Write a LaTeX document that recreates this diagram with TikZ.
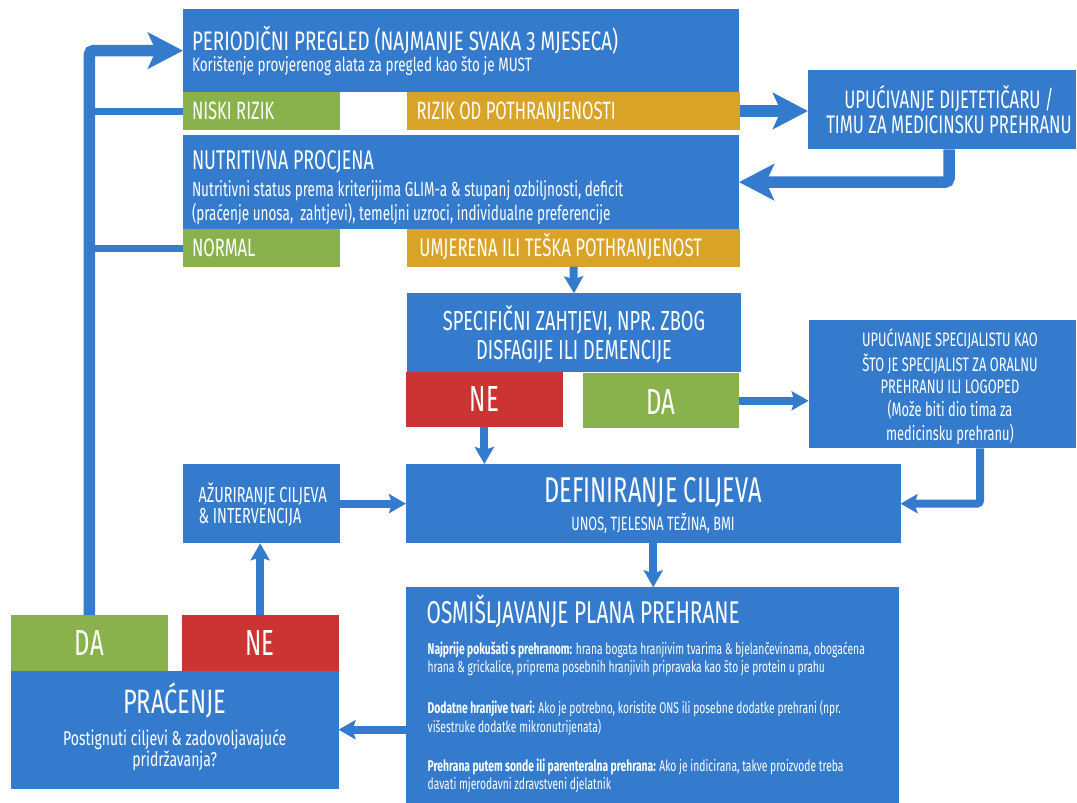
\documentclass[tikz,border=0pt]{standalone}
\usepackage{fontspec}
\setmainfont[FakeStretch=0.66]{Fira Sans}
\newfontfamily\widefont[FakeStretch=0.70]{Fira Sans}
\usetikzlibrary{arrows.meta}
\definecolor{flowblue}{RGB}{52,123,205}
\definecolor{flowgreen}{RGB}{137,178,77}
\definecolor{floworange}{RGB}{216,163,38}
\definecolor{flowred}{RGB}{204,51,51}
\newcommand{\fsz}[2]{\fontsize{#1}{#2}\selectfont}
\newcommand{\rows}[2]{\begin{tabular}[t]{@{}#1@{}}#2\end{tabular}}
\tikzset{
  box/.style={fill=flowblue,inner sep=0pt,outer sep=0pt,anchor=north west},
  green box/.style={box,fill=flowgreen},
  orange box/.style={box,fill=floworange},
  red box/.style={box,fill=flowred},
  boxtext/.style={text=white,inner sep=0pt,outer sep=0pt},
  big arrow/.style={draw=flowblue,line width=11.5pt,-{Stealth[length=35pt,width=36pt,inset=8pt]}},
  small arrow/.style={draw=flowblue,line width=8pt,-{Stealth[length=17pt,width=19pt,inset=3pt]}},
  branch/.style={draw=flowblue,line width=7pt}
}

\begin{document}
\begin{tikzpicture}[x=1pt,y=-1pt]
  \useasboundingbox (0,0) rectangle (1077,803);

  % screening and assessment
  \node[box,minimum width=556pt,minimum height=83.3pt] (periodic) at (183,9) {};
  \node[green box,minimum width=157pt,minimum height=37.4pt] (niski) at (183,92.3) {};
  \node[orange box,minimum width=333pt,minimum height=37.4pt] (rizik) at (407,92.3) {};
  \node[box,minimum width=556pt,minimum height=94.3pt] (nutri) at (183,135) {};
  \node[green box,minimum width=157pt,minimum height=37.4pt] (normal) at (183,229.3) {};
  \node[orange box,minimum width=333pt,minimum height=37.4pt] (umj) at (407,229.3) {};
  \node[box,minimum width=268pt,minimum height=79.3pt] (diet) at (808,70) {};

  \node[boxtext,anchor=base west,font=\widefont\fsz{26.8}{30}] (tperiodic) at (192,50) {PERIODIČNI PREGLED (NAJMANJE SVAKA 3 MJESECA)};
  \node[boxtext,anchor=base west,font=\widefont\fsz{19.3}{22}] (tmust) at (192,71.7) {Korištenje provjerenog alata za pregled kao što je MUST};
  \node[boxtext,anchor=base west,font=\fsz{25.1}{28}] (tniski) at (192,119) {NISKI RIZIK};
  \node[boxtext,anchor=base west,font=\fsz{25.1}{28}] (trizik) at (416.7,119) {RIZIK OD POTHRANJENOSTI};
  \node[boxtext,anchor=base west,font=\fsz{27.1}{30}] (tnutri) at (192,169.3) {NUTRITIVNA PROCJENA};
  \node[boxtext,anchor=base west,font=\fsz{20.5}{20.6}] (tnutribody) at (192,196.7)
    {\rows{l}{Nutritivni status prema kriterijima GLIM-a \& stupanj ozbiljnosti, deficit\\
     (praćenje unosa,\ \ zahtjevi), temeljni uzroci, individualne preferencije}};
  \node[boxtext,anchor=base west,font=\fsz{25.1}{28}] (tnormal) at (192,256.7) {NORMAL};
  \node[boxtext,anchor=base west,font=\fsz{25.4}{28}] (tumj) at (419.4,256.7) {UMJERENA ILI TEŠKA POTHRANJENOST};
  \node[boxtext,anchor=base,font=\fsz{25.4}{25}] (tdiet) at (949,108.3)
    {\rows{c}{UPUĆIVANJE DIJETETIČARU /\\TIMU ZA MEDICINSKU PREHRANU}};

  % specific needs
  \node[box,minimum width=334pt,minimum height=78.4pt] (spec) at (407,293.3) {};
  \node[red box,minimum width=156.7pt,minimum height=55pt] (sne) at (406,371.7) {};
  \node[green box,minimum width=156.3pt,minimum height=55pt] (sda) at (583,373.3) {};
  \node[box,minimum width=267.4pt,minimum height=128.3pt] (spl) at (808.6,320) {};

  \node[boxtext,anchor=base,font=\fsz{27.6}{28.3}] (tspec) at (574,330.7)
    {\rows{c}{SPECIFIČNI ZAHTJEVI, NPR. ZBOG\\DISFAGIJE ILI DEMENCIJE}};
  \node[boxtext,anchor=base,font=\fsz{36.3}{40}] (tsne) at (484.5,411.7) {NE};
  \node[boxtext,anchor=base,font=\fsz{36.3}{40}] (tsda) at (661.2,414) {DA};
  \node[boxtext,anchor=base,font=\fsz{19.5}{22.5}] (tspl) at (950,346.7)
    {\rows{c}{UPUĆIVANJE SPECIJALISTU KAO\\ŠTO JE SPECIJALIST ZA ORALNU\\PREHRANU ILI LOGOPED\\
     (Može biti dio tima za\\medicinsku prehranu)}};

  % goals
  \node[box,minimum width=157pt,minimum height=79.3pt] (azur) at (183,464) {};
  \node[box,minimum width=494.5pt,minimum height=79.3pt] (def) at (406,464) {};
  \node[boxtext,anchor=base west,font=\fsz{21.8}{21}] (tazur) at (198.7,502.3)
    {\rows{l}{AŽURIRANJE CILJEVA\\\& INTERVENCIJA}};
  \node[boxtext,anchor=base,font=\fsz{35.8}{38}] (tdef) at (653,502.7) {DEFINIRANJE CILJEVA};
  \node[boxtext,anchor=base,font=\fsz{19.3}{22}] (tdefsub) at (653,530) {UNOS, TJELESNA TEŽINA, BMI};

  % nutrition plan
  \node[box,minimum width=493pt,minimum height=215.7pt] (osm) at (406,587.3) {};
  \node[boxtext,anchor=base west,font=\fsz{31.5}{34}] (tosm) at (426.7,623.3) {OSMIŠLJAVANJE PLANA PREHRANE};
  \node[boxtext,anchor=base west,font=\fsz{15.6}{18.7}] (tosmfood) at (427.7,654)
    {\rows{l}{\textbf{Najprije pokušati s prehranom:} hrana bogata hranjivim tvarima \& bjelančevinama, obogaćena\\
     hrana \& grickalice, priprema posebnih hranjivih pripravaka kao što je protein u prahu}};
  \node[boxtext,anchor=base west,font=\fsz{15.6}{18.7}] (tosmons) at (427.7,713.3)
    {\rows{l}{\textbf{Dodatne hranjive tvari:} Ako je potrebno, koristite ONS ili posebne dodatke prehrani (npr.\\
     višestruke dodatke mikronutrijenata)}};
  \node[boxtext,anchor=base west,font=\fsz{15.6}{18.7}] (tosmtube) at (427.7,771)
    {\rows{l}{\textbf{Prehrana putem sonde ili parenteralna prehrana:} Ako je indicirana, takve proizvode treba\\
     davati mjerodavni zdravstveni djelatnik}};

  % monitoring
  \node[green box,minimum width=156.7pt,minimum height=55.7pt] (pda) at (11,615) {};
  \node[red box,minimum width=156.7pt,minimum height=55.7pt] (pne) at (181.8,615) {};
  \node[box,minimum width=327.5pt,minimum height=118pt] (pra) at (11,670.7) {};
  \node[boxtext,anchor=base,font=\fsz{36.3}{40}] (tpda) at (89.4,655) {DA};
  \node[boxtext,anchor=base,font=\fsz{36.3}{40}] (tpne) at (260.2,655) {NE};
  \node[boxtext,anchor=base,font=\widefont\fsz{33.8}{36}] (tpra) at (174.7,713.3) {PRAĆENJE};
  \node[boxtext,anchor=base,font=\widefont\fsz{20}{20.5}] (tprasub) at (174.7,745)
    {\rows{c}{Postignuti ciljevi \& zadovoljavajuće\\pridržavanja?}};

  % connectors
  \coordinate (dietout) at (949,149.3);
  \coordinate (splout) at (980,448.3);
  \draw[big arrow,rounded corners=4pt] (pda.north) |- (periodic.west);
  \draw[branch] (niski.west) -- (niski.west -| pda.north);
  \draw[branch] (normal.west) -- (normal.west -| pda.north);
  \draw[big arrow] (rizik.east) -- (rizik.east -| diet.west);
  \draw[big arrow,rounded corners=4pt] (dietout) |- (nutri.east);
  \draw[small arrow] (umj.south) -- (spec.north);
  \draw[small arrow] (sne.south) -- (sne.south |- def.north);
  \draw[small arrow] (sda.east) -- (sda.east -| spl.west);
  \draw[small arrow,rounded corners=3pt] (splout) |- (def.east);
  \draw[small arrow] (azur.east) -- (def.west);
  \draw[small arrow] (def.south) -- (def.south |- osm.north);
  \draw[small arrow] (osm.west |- pra.east) -- (pra.east);
  \draw[small arrow] (pne.north) -- (pne.north |- azur.south);
\end{tikzpicture}
\end{document}
